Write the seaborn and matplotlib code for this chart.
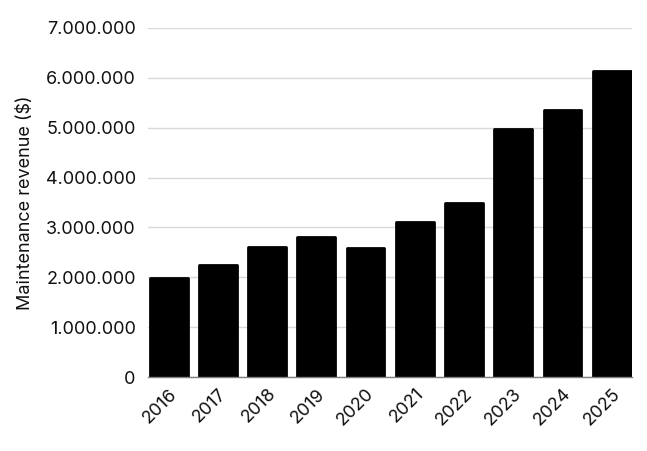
import matplotlib
matplotlib.use("Agg")
import matplotlib.pyplot as plt
import matplotlib.ticker as mticker
import seaborn as sns
import pandas as pd

years = ['2016', '2017', '2018', '2019', '2020', '2021', '2022', '2023', '2024', '2025']
revenue = [1980000, 2250000, 2610000, 2810000, 2590000, 3100000, 3490000, 4970000, 5360000, 6140000]
y_ticks = [0, 1000000, 2000000, 3000000, 4000000, 5000000, 6000000, 7000000]


def dot_thousands(v, pos):
    return f"{int(v):,}".replace(",", ".")


def main():
    sns.set_style("white")
    plt.rcParams['font.family'] = ['Inter', 'DejaVu Sans']

    df = pd.DataFrame({'year': years, 'revenue': revenue})

    fig, ax = plt.subplots(figsize=(6.47, 4.51), dpi=100)
    fig.subplots_adjust(left=0.229, right=0.977, top=0.938, bottom=0.164)

    # thin round-joined edge gives the slightly rounded bar corners
    edge_lw = 2.0
    sns.barplot(data=df, x='year', y='revenue', color='black', width=0.77,
                edgecolor='black', linewidth=edge_lw, saturation=1, ax=ax, zorder=3)
    for p in ax.patches:
        p.set_joinstyle('round')

    ax.set_ylim(0, 7000000)
    ax.set_xlim(-0.415, 9.415)
    ax.set_yticks(y_ticks)
    ax.yaxis.set_major_formatter(mticker.FuncFormatter(dot_thousands))
    ax.grid(axis='y', color='#d9d9d9', linewidth=1, zorder=0)
    ax.set_axisbelow(True)

    for side in ['top', 'right', 'left']:
        ax.spines[side].set_visible(False)
    ax.spines['bottom'].set_color('#7f7f7f')
    ax.spines['bottom'].set_linewidth(1)
    ax.spines['bottom'].set_zorder(4)

    ax.set_xlabel('')
    ax.set_ylabel('Maintenance revenue ($)', fontsize=13, color='#111111', labelpad=8)
    ax.tick_params(axis='both', length=0, labelsize=13, labelcolor='#111111')
    ax.tick_params(axis='y', pad=9)
    ax.tick_params(axis='x', pad=6)
    for lbl in ax.get_xticklabels():
        lbl.set_rotation(45)
        lbl.set_ha('right')
        lbl.set_rotation_mode('anchor')

    plt.savefig('out.png', dpi=100)
    plt.close()


if "__main__" == __name__:
    main()
